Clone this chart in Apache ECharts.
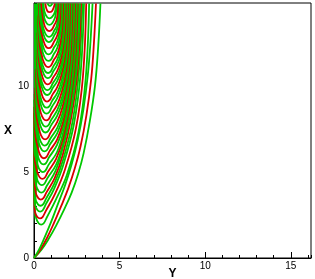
<!DOCTYPE html>
<html><head><meta charset="utf-8">
<script src="https://cdn.jsdelivr.net/npm/echarts@6/dist/echarts.min.js"></script>
<style>html,body{margin:0;padding:0;background:#fff}#c{width:315px;height:279px}</style>
</head><body><div id="c"></div>
<script>
// Axis ranges / ticks (horizontal axis "Y", vertical axis "X")
const yAxisRange = [0, 16.18];
const xAxisRange = [0, 14.83];
const majorStep = 5;
const minorStep = 1;

// Dense green band along the left edge: [Y, X] vertices
const bandY = [0, 0.05, 0.12, 0.18, 0.22, 0.27, 0.31, 0.34, 0.36, 0.40, 0.46, 0.50, 0.53, 0.56, 0.58, 0];
const bandX = [2.0, 2.5, 3.2, 4.2, 5.0, 6.0, 7.0, 8.0, 9.0, 10.0, 11.0, 12.0, 13.0, 14.0, 14.8, 14.8];

// Curves through the origin, points [Y, X]
const o1 = [[0,0],[0.45,0.5],[0.85,1.1],[1.3,1.9],[1.75,2.8],[2.2,3.8],[2.58,4.9],[2.9,6.1],[3.25,7.9],[3.56,10.0],[3.75,12.3],[3.88,14.8]];
const o2 = [[0,0],[0.38,0.5],[0.75,1.15],[1.15,2.0],[1.58,3.0],[2.0,4.05],[2.38,5.2],[2.72,6.5],[3.06,8.3],[3.34,10.4],[3.5,12.5],[3.62,14.8]];
const o3 = [[0,0],[0.3,0.5],[0.62,1.2],[1.0,2.1],[1.4,3.15],[1.82,4.25],[2.2,5.45],[2.55,6.85],[2.88,8.6],[3.14,10.6],[3.3,12.6],[3.42,14.8]];

// U-shaped curves, points [Y, X]
const u1 = [[0.01,4.94],[0.02,3.24],[0.12,2.34],[0.27,2.02],[0.42,1.94],[0.57,2.02],[0.74,2.34],[1.25,3.34],[1.92,4.83],[2.6,7.32],[3.02,10.44],[3.22,14.8]];
const u2 = [[0.01,5.30],[0.02,3.60],[0.05,2.70],[0.20,2.38],[0.35,2.30],[0.50,2.38],[0.67,2.70],[1.2,3.67],[1.8,5.12],[2.45,7.54],[2.86,10.57],[3.05,14.8]];
const u3 = [[0.01,5.70],[0.02,4.00],[0.06,3.10],[0.21,2.78],[0.36,2.70],[0.51,2.78],[0.68,3.10],[1.18,4.04],[1.72,5.44],[2.33,7.78],[2.72,10.71],[2.92,14.8]];
const u4 = [[0.01,6.04],[0.02,4.34],[0.08,3.44],[0.23,3.12],[0.38,3.04],[0.53,3.12],[0.70,3.44],[1.2,4.35],[1.7,5.71],[2.26,7.98],[2.62,10.82],[2.83,14.8]];
const u5 = [[0.01,6.40],[0.02,4.70],[0.10,3.80],[0.25,3.48],[0.40,3.40],[0.55,3.48],[0.72,3.80],[1.22,4.68],[1.68,6.00],[2.18,8.20],[2.55,10.95],[2.75,14.8]];
const u6 = [[0.01,6.80],[0.02,5.10],[0.13,4.20],[0.28,3.88],[0.43,3.80],[0.58,3.88],[0.75,4.20],[1.25,5.05],[1.66,6.32],[2.15,8.44],[2.5,11.09],[2.69,14.8]];
const u7 = [[0.01,7.24],[0.02,5.54],[0.16,4.64],[0.31,4.32],[0.46,4.24],[0.61,4.32],[0.78,4.64],[1.3,5.45],[1.7,6.67],[2.12,8.70],[2.45,11.24],[2.62,14.8]];
const u8 = [[0.01,7.60],[0.02,5.90],[0.19,5.00],[0.34,4.68],[0.49,4.60],[0.64,4.68],[0.81,5.00],[1.3,5.78],[1.7,6.96],[2.1,8.92],[2.4,11.37],[2.55,14.8]];
const u9 = [[0.01,8.00],[0.02,6.30],[0.22,5.40],[0.37,5.08],[0.52,5.00],[0.67,5.08],[0.84,5.40],[1.34,6.15],[1.7,7.28],[2.08,9.16],[2.36,11.51],[2.50,14.8]];
const u10 = [[0.01,8.44],[0.05,6.74],[0.25,5.84],[0.40,5.52],[0.55,5.44],[0.70,5.52],[0.87,5.84],[1.34,6.56],[1.7,7.63],[2.05,9.42],[2.32,11.66],[2.45,14.8]];
const u11 = [[0.01,8.80],[0.08,7.10],[0.28,6.20],[0.43,5.88],[0.58,5.80],[0.73,5.88],[0.90,6.20],[1.35,6.89],[1.7,7.92],[2.03,9.64],[2.28,11.79],[2.40,14.8]];
const u12 = [[0.01,9.20],[0.11,7.50],[0.31,6.60],[0.46,6.28],[0.61,6.20],[0.76,6.28],[0.93,6.60],[1.36,7.26],[1.7,8.24],[2.01,9.88],[2.24,11.93],[2.35,14.8]];
const u13 = [[0.03,9.54],[0.13,7.84],[0.33,6.94],[0.48,6.62],[0.63,6.54],[0.78,6.62],[0.95,6.94],[1.36,7.57],[1.69,8.51],[1.99,10.08],[2.2,12.05],[2.30,14.8]];
const u14 = [[0.05,9.90],[0.15,8.20],[0.35,7.30],[0.50,6.98],[0.65,6.90],[0.80,6.98],[0.97,7.30],[1.35,7.90],[1.67,8.80],[1.96,10.30],[2.16,12.18],[2.25,14.8]];
const u15 = [[0.07,10.30],[0.17,8.60],[0.37,7.70],[0.52,7.38],[0.67,7.30],[0.82,7.38],[0.99,7.70],[1.35,8.27],[1.66,9.12],[1.94,10.54],[2.12,12.32],[2.20,14.8]];
const u16 = [[0.09,10.64],[0.19,8.94],[0.39,8.04],[0.54,7.72],[0.69,7.64],[0.84,7.72],[1.01,8.04],[1.35,8.58],[1.65,9.39],[1.92,10.74],[2.08,12.43],[2.15,14.8]];
const u17 = [[0.11,11.00],[0.21,9.30],[0.41,8.40],[0.56,8.08],[0.71,8.00],[0.86,8.08],[1.03,8.40],[1.35,8.91],[1.63,9.68],[1.89,10.96],[2.04,12.56],[2.10,14.8]];
const u18 = [[0.13,11.40],[0.23,9.70],[0.43,8.80],[0.58,8.48],[0.73,8.40],[0.88,8.48],[1.05,8.80],[1.35,9.28],[1.62,10.00],[1.86,11.20],[2.00,12.70],[2.06,14.8]];
const u19 = [[0.14,11.74],[0.24,10.04],[0.44,9.14],[0.59,8.82],[0.74,8.74],[0.89,8.82],[1.06,9.14],[1.35,9.59],[1.60,10.27],[1.83,11.40],[1.96,12.82],[2.02,14.8]];
const u20 = [[0.16,12.10],[0.26,10.40],[0.46,9.50],[0.61,9.18],[0.76,9.10],[0.91,9.18],[1.08,9.50],[1.35,9.92],[1.58,10.56],[1.80,11.62],[1.93,12.95],[1.98,14.8]];
const u21 = [[0.17,12.48],[0.27,10.78],[0.47,9.88],[0.62,9.56],[0.77,9.48],[0.92,9.56],[1.09,9.88],[1.35,10.27],[1.57,10.86],[1.77,11.85],[1.89,13.08],[1.94,14.8]];
const u22 = [[0.18,12.76],[0.28,11.06],[0.48,10.16],[0.63,9.84],[0.78,9.76],[0.93,9.84],[1.10,10.16],[1.34,10.53],[1.55,11.09],[1.74,12.02],[1.85,13.18],[1.90,14.8]];
const u23 = [[0.20,13.10],[0.30,11.40],[0.50,10.50],[0.65,10.18],[0.80,10.10],[0.95,10.18],[1.12,10.50],[1.34,10.84],[1.53,11.36],[1.70,12.22],[1.81,13.30],[1.85,14.8]];
const u24 = [[0.21,13.46],[0.31,11.76],[0.51,10.86],[0.66,10.54],[0.81,10.46],[0.96,10.54],[1.13,10.86],[1.33,11.18],[1.51,11.65],[1.67,12.44],[1.76,13.42],[1.80,14.8]];
const u25 = [[0.22,13.76],[0.32,12.06],[0.52,11.16],[0.67,10.84],[0.82,10.76],[0.97,10.84],[1.14,11.16],[1.32,11.45],[1.48,11.89],[1.63,12.62],[1.71,13.53],[1.75,14.8]];
const u26 = [[0.23,14.10],[0.33,12.40],[0.53,11.50],[0.68,11.18],[0.83,11.10],[0.98,11.18],[1.15,11.50],[1.32,11.76],[1.46,12.16],[1.59,12.82],[1.67,13.65],[1.70,14.8]];
const u27 = [[0.24,14.46],[0.34,12.76],[0.54,11.86],[0.69,11.54],[0.84,11.46],[0.99,11.54],[1.16,11.86],[1.31,12.10],[1.43,12.45],[1.55,13.04],[1.62,13.77],[1.65,14.8]];
const u28 = [[0.26,14.8],[0.35,13.14],[0.55,12.24],[0.70,11.92],[0.85,11.84],[1.00,11.92],[1.17,12.24],[1.30,12.44],[1.41,12.75],[1.51,13.26],[1.57,13.90],[1.60,14.8]];
const u29 = [[0.30,14.8],[0.36,13.50],[0.56,12.60],[0.71,12.28],[0.86,12.20],[1.01,12.28],[1.18,12.60],[1.29,12.78],[1.39,13.04],[1.48,13.48],[1.53,14.03],[1.55,14.8]];
const u30 = [[0.33,14.8],[0.37,13.86],[0.57,12.96],[0.72,12.64],[0.87,12.56],[1.02,12.64],[1.19,12.96],[1.28,13.11],[1.36,13.33],[1.44,13.70],[1.48,14.16],[1.50,14.8]];
const u31 = [[0.36,14.8],[0.38,14.16],[0.58,13.26],[0.73,12.94],[0.88,12.86],[1.03,12.94],[1.20,13.26],[1.28,13.38],[1.34,13.57],[1.40,13.88],[1.44,14.26],[1.45,14.8]];
const u32 = [[0.42,14.8],[0.59,13.60],[0.74,13.28],[0.89,13.20],[1.04,13.28],[1.21,13.60],[1.27,13.70],[1.32,13.84],[1.36,14.08],[1.39,14.38],[1.40,14.8]];
const u33 = [[0.52,14.8],[0.60,13.96],[0.75,13.64],[0.90,13.56],[1.05,13.64],[1.22,13.96],[1.27,14.2],[1.31,14.5],[1.34,14.8]];
const u34 = [[0.56,14.8],[0.61,14.34],[0.76,14.02],[0.91,13.94],[1.06,14.02],[1.23,14.34],[1.28,14.8]];
const u35 = [[0.66,14.8],[0.77,14.38],[0.92,14.30],[1.07,14.38],[1.22,14.8]];
const u36 = [[0.78,14.8],[0.86,14.70],[0.93,14.66],[1.00,14.70],[1.08,14.8]];

const curves = [o1,o2,o3,u1,u2,u3,u4,u5,u6,u7,u8,u9,u10,u11,u12,u13,u14,u15,u16,u17,u18,u19,u20,u21,u22,u23,u24,u25,u26,u27,u28,u29,u30,u31,u32,u33,u34,u35,u36];
const curveColor = ['G','R','G','G','R','G','G','R','G','G','R','G','G','R','G','G','R','G','G','R','G','G','R','G','G','R','G','G','R','G','G','R','G','G','R','G','G','R','G'];

const GREEN = '#00c800';
const RED = '#d80000';
const FONT = 'Liberation Sans, Arial, sans-serif';

const series = [];
series.push({
  type: 'custom', xAxisIndex: 0, yAxisIndex: 0, silent: true, z: 1,
  data: [[0, 0]],
  renderItem: function (params, api) {
    return { type: 'polygon', shape: { points: bandY.map((y, i) => api.coord([y, bandX[i]])) }, style: { fill: GREEN } };
  }
});
curves.forEach((c, i) => {
  series.push({
    type: 'line', xAxisIndex: 0, yAxisIndex: 0, data: c, showSymbol: false, symbol: 'none',
    smooth: 0.4, silent: true, z: 2,
    lineStyle: { width: 1.8, color: curveColor[i] === 'R' ? RED : GREEN }
  });
});

const chart = echarts.init(document.getElementById('c'), null, { renderer: 'canvas' });
chart.setOption({
  animation: false,
  grid: { left: 34, right: 4, top: 3, bottom: 21, outerBoundsMode: 'none', containLabel: false,
          show: true, borderColor: '#000', borderWidth: 1, backgroundColor: 'transparent' },
  xAxis: [
    { type: 'value', min: yAxisRange[0], max: yAxisRange[1], interval: majorStep, position: 'bottom',
      name: 'Y', nameLocation: 'middle', nameGap: 10, nameMoveOverlap: false,
      nameTextStyle: { fontFamily: FONT, fontSize: 12, fontWeight: 'bold', color: '#000' },
      axisLine: { show: true, onZero: false, lineStyle: { color: '#000', width: 1 } },
      axisTick: { show: true, inside: true, length: 6, lineStyle: { color: '#000' } },
      axisLabel: { show: true, margin: 3, fontFamily: FONT, fontSize: 10, color: '#000', showMaxLabel: false },
      splitLine: { show: false } },
    { type: 'value', min: yAxisRange[0], max: yAxisRange[1], interval: minorStep, position: 'bottom', offset: 0,
      axisLine: { show: false, onZero: false },
      axisTick: { show: true, inside: true, length: 3, lineStyle: { color: '#000' } },
      axisLabel: { show: false }, splitLine: { show: false } }
  ],
  yAxis: [
    { type: 'value', min: xAxisRange[0], max: xAxisRange[1], interval: majorStep, position: 'left',
      name: 'X', nameLocation: 'middle', nameGap: 22, nameRotate: 0, nameMoveOverlap: false,
      nameTextStyle: { fontFamily: FONT, fontSize: 12, fontWeight: 'bold', color: '#000' },
      axisLine: { show: true, onZero: false, lineStyle: { color: '#000', width: 1 } },
      axisTick: { show: true, inside: true, length: 6, lineStyle: { color: '#000' } },
      axisLabel: { show: true, margin: 5, fontFamily: FONT, fontSize: 10, color: '#000', showMaxLabel: false },
      splitLine: { show: false } },
    { type: 'value', min: xAxisRange[0], max: xAxisRange[1], interval: minorStep, position: 'left', offset: 0,
      axisLine: { show: false, onZero: false },
      axisTick: { show: true, inside: true, length: 3, lineStyle: { color: '#000' } },
      axisLabel: { show: false }, splitLine: { show: false } }
  ],
  series: series
});
</script></body></html>
